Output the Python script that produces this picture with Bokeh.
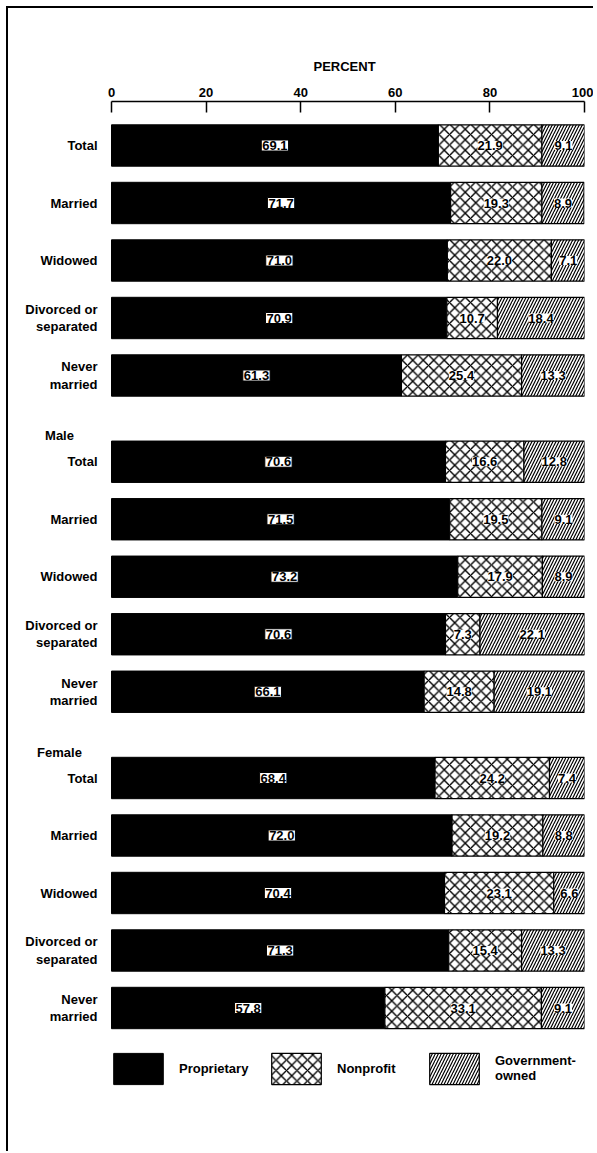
from bokeh.plotting import figure
from bokeh.models import Range1d, FixedTicker, Legend, LegendItem, ColumnDataSource
from bokeh.core.properties import value
from bokeh.embed import file_html
from bokeh.resources import INLINE
import numpy as np

# ---------------- data ----------------
groups = ["", "Male", "Female"]
rows = ["Total", "Married", "Widowed", "Divorced or\nseparated", "Never\nmarried"]
proprietary = [69.1, 71.7, 71.0, 70.9, 61.3,
               70.6, 71.5, 73.2, 70.6, 66.1,
               68.4, 72.0, 70.4, 71.3, 57.8]
nonprofit = [21.9, 19.3, 22.0, 10.7, 25.4,
             16.6, 19.5, 17.9, 7.3, 14.8,
             24.2, 19.2, 23.1, 15.4, 33.1]
government = [9.1, 8.9, 7.1, 18.4, 13.3,
              12.8, 9.1, 8.9, 22.1, 19.1,
              7.4, 8.8, 6.6, 13.3, 9.1]
series_names = ["Proprietary", "Nonprofit", "Government-\nowned"]
x_ticks = [0, 20, 40, 60, 80, 100]
axis_title = "PERCENT"

FONT = "Liberation Sans"

# ---------------- geometry ----------------
W, H = 587, 1145
frame_left_px = 0
frame_right_border = 11
zero_px = 103                      # pixel (from frame left) of x = 0
frame_w = W - frame_left_px - frame_right_border
ppu = (frame_w - zero_px) / 100.0  # pixels per percent
x_start = -zero_px / ppu

top_border = 93
bottom_border = 20
slot_px = 57.5
first_center_px = 137.0            # canvas y of first bar centre
frame_h = H - top_border - bottom_border
y_top = (first_center_px - top_border) / slot_px
y_bottom = y_top - frame_h / slot_px

n_rows = len(rows)
slot_step = n_rows + 0.5
ys, ylabels = [], []
for g in range(len(groups)):
    for i, r in enumerate(rows):
        s = g * slot_step + i
        ys.append(0.0 if s == 0 else -s)
        ylabels.append(r)

prop = np.array(proprietary)
nonp = np.array(nonprofit)
gov = np.array(government)

src = ColumnDataSource(dict(
    y=ys,
    p0=np.zeros(len(prop)),
    p1=prop,
    n1=prop + nonp,
    g1=prop + nonp + gov,
    pc=prop / 2,
    nc=prop + nonp / 2,
    gc=prop + nonp + gov / 2,
    pt=[f"{v:.1f}" for v in prop],
    nt=[f"{v:.1f}" for v in nonp],
    gt=[f"{v:.1f}" for v in gov],
    lab=ylabels,
    lx=[-14 / ppu] * len(ys),
))

hdr_y = [-(g * slot_step - 0.45) for g, n in enumerate(groups) if n]
hdr_t = [n for n in groups if n]
hdr_src = ColumnDataSource(dict(x=[-52 / ppu] * len(hdr_t), y=hdr_y, t=hdr_t))

p = figure(width=W, height=H,
           x_range=Range1d(x_start, 100), y_range=Range1d(y_bottom, y_top),
           output_backend="svg", toolbar_location=None,
           x_axis_location="above", y_axis_location=None,
           min_border_left=frame_left_px, min_border_right=frame_right_border,
           min_border_top=top_border, min_border_bottom=bottom_border)
p.styles = {"margin-left": "6px", "margin-top": "6px",
            "border-left": "2px solid black", "border-top": "2px solid black"}
p.outline_line_color = None
p.grid.visible = False
p.background_fill_color = "white"

# title used as the axis caption, positioned over the 0-100 scale
p.title.text = axis_title
p.title.align = "left"
p.title.offset = 305
p.title.text_font = FONT
p.title.text_font_style = "bold"
p.title.text_font_size = "13px"
p.title.text_color = "black"
p.title.standoff = 22

bh = 0.72
r_p = p.hbar(y="y", left="p0", right="p1", height=bh, source=src,
             fill_color="black", line_color="black", line_width=1)
r_n = p.hbar(y="y", left="p1", right="n1", height=bh, source=src,
             fill_color="white", line_color="black", line_width=1.2,
             hatch_pattern="x", hatch_color="black", hatch_scale=10.5, hatch_weight=1.4)
r_g = p.hbar(y="y", left="n1", right="g1", height=bh, source=src,
             fill_color="white", line_color="black", line_width=1.2,
             hatch_pattern="/", hatch_color="black", hatch_scale=6, hatch_weight=1.2)

common = dict(source=src, y="y", text_font=value(FONT), text_font_style="bold",
              text_font_size="13px", text_align="center", text_baseline="middle",
              text_color="black")
p.text(x="pc", text="pt", background_fill_color="white",
       border_line_color="black", border_line_width=1, padding=1, **common)
p.text(x="nc", text="nt", background_fill_color="white", padding=0, **common)
p.text(x="gc", text="gt", background_fill_color="white", padding=0, **common)

# category names
p.text(x="lx", y="y", text="lab", source=src, text_font=value(FONT),
       text_font_style="bold", text_font_size="13px", text_align="right",
       text_baseline="middle", text_color="black", text_line_height=1.15)
# group headers
p.text(x="x", y="y", text="t", source=hdr_src, text_font=value(FONT),
       text_font_style="bold", text_font_size="13px", text_align="center",
       text_baseline="middle", text_color="black")

# top axis
xa = p.xaxis[0]
xa.ticker = FixedTicker(ticks=x_ticks)
xa.bounds = (0, 100)
xa.major_tick_in = 11
xa.major_tick_out = 0
xa.minor_tick_line_color = None
xa.axis_line_width = 1.5
xa.major_tick_line_width = 1.5
xa.major_label_standoff = 5
xa.major_label_text_font = FONT
xa.major_label_text_font_style = "bold"
xa.major_label_text_font_size = "13px"
xa.major_label_text_color = "black"

legend = Legend(items=[LegendItem(label=series_names[0], renderers=[r_p]),
                       LegendItem(label=series_names[1], renderers=[r_n]),
                       LegendItem(label=series_names[2], renderers=[r_g])],
                orientation="horizontal", location=(99, 45.5),
                glyph_width=62, glyph_height=39, label_standoff=10,
                label_width=76, spacing=10, padding=0, margin=0,
                border_line_color=None, background_fill_alpha=0,
                label_text_font=FONT, label_text_font_style="bold",
                label_text_font_size="13px", label_text_color="black",
                label_text_baseline="middle")
p.add_layout(legend)

open("out.html", "w").write(file_html(p, INLINE))
